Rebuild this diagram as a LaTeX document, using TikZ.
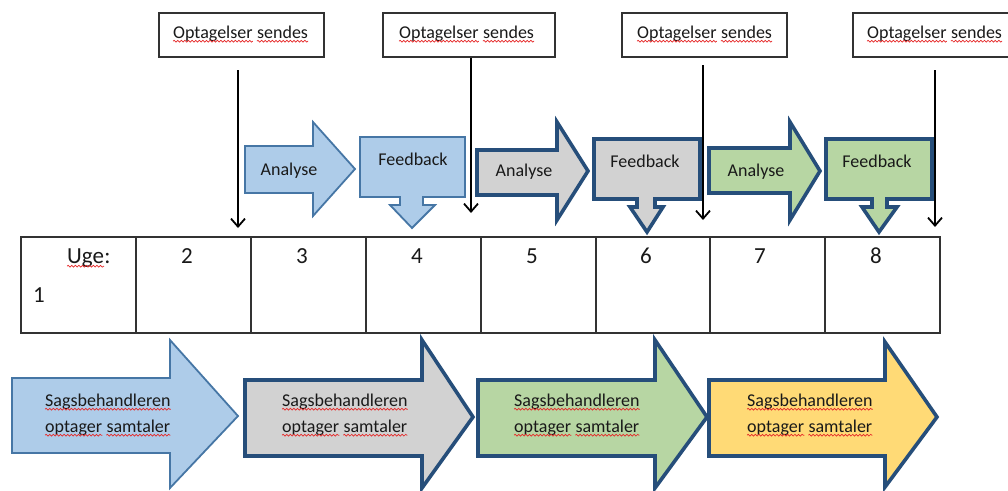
\documentclass[tikz,border=0pt]{standalone}
\usepackage{fontspec}
\setmainfont{Carlito}
\usetikzlibrary{arrows.meta,decorations.pathmorphing}
\definecolor{blueFill}{RGB}{174,204,233}
\definecolor{blueLine}{RGB}{70,118,165}
\definecolor{grayFill}{RGB}{210,210,210}
\definecolor{greenFill}{RGB}{183,214,163}
\definecolor{yellowFill}{RGB}{255,218,118}
\definecolor{darkLine}{RGB}{38,78,122}
\definecolor{boxLine}{RGB}{50,50,50}
\definecolor{txt}{RGB}{25,25,25}
\definecolor{waveRed}{RGB}{230,40,40}
\tikzset{
  lightshape/.style={fill=blueFill, draw=blueLine, line width=1.8pt, line join=miter},
  darkshape/.style={draw=darkLine, line width=3.6pt, line join=miter},
  lbl/.style={font=\fontsize{18}{26}\selectfont, text=txt, inner sep=0pt, anchor=base},
  wrd/.style={font=\fontsize{18}{26}\selectfont, text=txt, inner sep=0pt, anchor=base west},
  tbl/.style={font=\fontsize{23}{28}\selectfont, text=txt, inner sep=0pt, anchor=base},
  sendbox/.style={draw=boxLine, line width=1.3pt, fill=white, minimum height=44pt, inner sep=0pt},
  sendarrow/.style={line width=1.8pt, -{Straight Barb[length=8pt,width=14pt]}},
  tableline/.style={draw=boxLine, line width=1.3pt},
  spellwave/.style={draw=waveRed, line width=0.7pt, decorate, decoration={snake, amplitude=0.9pt, segment length=3.6pt}}
}
\newcommand\squig[1]{\draw[spellwave] ([yshift=-3.2pt]#1.base west) -- ([yshift=-3.2pt]#1.base east);}
\begin{document}
\begin{tikzpicture}[x=1pt,y=-1pt]
\useasboundingbox (0,0) rectangle (1008,490);

% ---- top boxes
\node[sendbox, minimum width=165pt] (t1) at (241.5,35) {};
\node[sendbox, minimum width=172pt] (t2) at (469,35) {};
\node[sendbox, minimum width=165pt] (t3) at (704.5,35) {};
\node[sendbox, minimum width=165pt] (t4) at (935.5,35) {};
\foreach \i/\x in {1/173,2/399,3/637,4/867}{
  \node[wrd] (op\i) at (\x,38) {Optagelser};
  \node[wrd] (se\i) at ([xshift=4.1pt]op\i.base east) {sendes};
  \squig{op\i}
  \squig{se\i}
}

% ---- analyse arrows
\filldraw[lightshape] (245,146) -- (313,146) -- (313,122) -- (355,169) -- (313,216) -- (313,193) -- (245,193) -- cycle;
\node[lbl] (an1) at (289,175) {Analyse};
\filldraw[darkshape, fill=grayFill] (477,150) -- (557,150) -- (557,122) -- (588,171) -- (557,220) -- (557,195) -- (477,195) -- cycle;
\node[lbl] (an2) at (524,176) {Analyse};
\filldraw[darkshape, fill=greenFill] (709,148) -- (790,148) -- (790,122) -- (820,171) -- (790,220) -- (790,193) -- (709,193) -- cycle;
\node[lbl] (an3) at (756,176) {Analyse};

% ---- feedback callouts
\filldraw[lightshape] (360,137) -- (465,137) -- (465,197) -- (423,197) -- (423,205) -- (435,205) -- (412,228) -- (390,205) -- (400,205) -- (400,197) -- (360,197) -- cycle;
\node[lbl] (fb1) at (413,165) {Feedback};
\filldraw[darkshape, fill=grayFill] (594,139) -- (700,139) -- (700,199) -- (655,199) -- (655,207) -- (663,207) -- (647,232) -- (630,207) -- (637,207) -- (637,199) -- (594,199) -- cycle;
\node[lbl] (fb2) at (645,167) {Feedback};
\filldraw[darkshape, fill=greenFill] (826,139) -- (932,139) -- (932,199) -- (887,199) -- (887,207) -- (897,207) -- (879,232) -- (862,207) -- (872,207) -- (872,199) -- (826,199) -- cycle;
\node[lbl] (fb3) at (877,167) {Feedback};

% ---- black arrows
\coordinate (b1s) at (238,70);
\coordinate (b1e) at (238,228);
\coordinate (b2e) at (471,213);
\coordinate (b3s) at (703,65);
\coordinate (b3e) at (703,220);
\coordinate (b4s) at (935,70);
\coordinate (b4e) at (935,227);
\draw[sendarrow] (b1s) -- (b1e);
\draw[sendarrow] (b2e |- t2.south) -- (b2e);
\draw[sendarrow] (b3s) -- (b3e);
\draw[sendarrow] (b4s) -- (b4e);

% ---- table
\draw[tableline] (21,237) rectangle (940,333);
\foreach \x in {136,251,366,481,596,710,825} \draw[tableline] (\x,237) -- (\x,333);
\node[tbl, anchor=base west] (uge) at (67,263) {Uge};
\node[tbl, anchor=base west] (ugec) at (uge.base east) {:};
\squig{uge}
\node[tbl] (w1) at (39,302) {1};
\node[tbl] (w2) at (187,263) {2};
\node[tbl] (w3) at (302,263) {3};
\node[tbl] (w4) at (417,263) {4};
\node[tbl] (w5) at (532,263) {5};
\node[tbl] (w6) at (646,263) {6};
\node[tbl] (w7) at (760,263) {7};
\node[tbl] (w8) at (876,263) {8};

% ---- bottom arrows
\filldraw[lightshape] (12,378) -- (170,378) -- (170,340) -- (238,416) -- (170,488) -- (170,453) -- (12,453) -- cycle;
\filldraw[darkshape, fill=grayFill] (245,380) -- (422,380) -- (422,340) -- (473,417) -- (422,488) -- (422,456) -- (245,456) -- cycle;
\filldraw[darkshape, fill=greenFill] (478,380) -- (655,380) -- (655,340) -- (707,417) -- (655,488) -- (655,456) -- (478,456) -- cycle;
\filldraw[darkshape, fill=yellowFill] (709,380) -- (885,380) -- (885,342) -- (937,417) -- (885,487) -- (885,456) -- (709,456) -- cycle;
\foreach \i/\x in {1/45,2/282,3/514,4/747}{
  \node[wrd] (sa\i) at (\x,406) {Sagsbehandleren};
  \node[wrd] (og\i) at (\x,432) {optager};
  \node[wrd] (st\i) at ([xshift=4.1pt]og\i.base east) {samtaler};
  \squig{sa\i}
  \squig{og\i}
  \squig{st\i}
}
\end{tikzpicture}
\end{document}
